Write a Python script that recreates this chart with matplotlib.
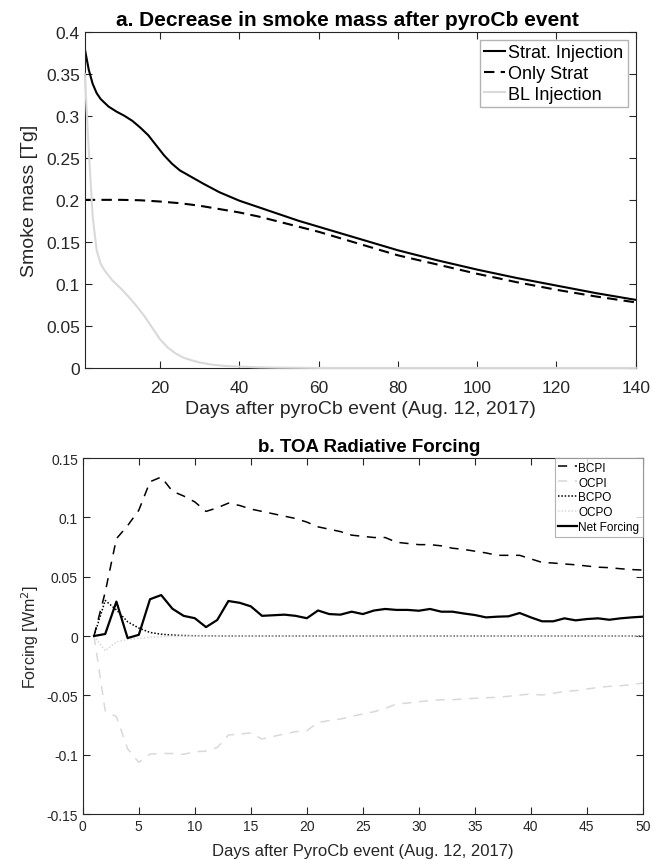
import numpy as np
from matplotlib import pyplot as plt

plt.rcParams['font.family'] = ['Liberation Sans', 'DejaVu Sans']

# panel a: smoke mass [Tg]
strat_days = [1, 2, 3, 4, 5, 7, 9, 11, 13, 15, 17, 19, 21, 23, 25, 28, 31, 35, 40, 45,
              50, 55, 60, 70, 80, 90, 100, 110, 120, 130, 140]
strat_mass = [0.38, 0.355, 0.338, 0.327, 0.320, 0.311, 0.305, 0.300, 0.294, 0.286, 0.277,
              0.265, 0.253, 0.243, 0.235, 0.227, 0.219, 0.209, 0.199, 0.191, 0.183, 0.175,
              0.168, 0.154, 0.140, 0.128, 0.117, 0.107, 0.098, 0.089, 0.081]
only_days = [1, 5, 10, 15, 20, 25, 30, 35, 40, 45, 50, 60, 70, 80, 90, 100, 110, 120, 130, 140]
only_mass = [0.2, 0.2, 0.2, 0.1995, 0.198, 0.196, 0.193, 0.189, 0.185, 0.180, 0.174, 0.162,
             0.148, 0.134, 0.123, 0.112, 0.102, 0.093, 0.085, 0.078]
bl_days = [1, 2, 3, 4, 5, 6, 7, 8, 10, 12, 14, 16, 18, 20, 22, 24, 26, 28, 30, 33, 36, 40,
           45, 50, 60, 140]
bl_mass = [0.35, 0.26, 0.18, 0.14, 0.124, 0.116, 0.110, 0.104, 0.095, 0.085, 0.074, 0.062,
           0.048, 0.034, 0.024, 0.017, 0.012, 0.009, 0.0065, 0.004, 0.0025, 0.0015, 0.0007,
           0.0003, 0.0, 0.0]

# panel b: daily TOA forcing, days 1..50
days_b = list(range(1, 51))
bcpi = [0.0, 0.037, 0.082, 0.093, 0.106, 0.130, 0.134, 0.122, 0.118, 0.113,
        0.105, 0.108, 0.112, 0.110, 0.107, 0.105, 0.103, 0.101, 0.099, 0.096,
        0.092, 0.090, 0.088, 0.085, 0.084, 0.083, 0.083, 0.079, 0.078, 0.077,
        0.077, 0.076, 0.074, 0.073, 0.0715, 0.070, 0.068, 0.068, 0.068, 0.065,
        0.062, 0.0615, 0.0607, 0.060, 0.059, 0.058, 0.0576, 0.0567, 0.056, 0.0556]
ocpi = [0.0, -0.063, -0.068, -0.095, -0.1065, -0.0995, -0.099, -0.099, -0.0997, -0.0975,
        -0.097, -0.094, -0.0834, -0.0826, -0.0817, -0.0868, -0.0846, -0.0826, -0.0806, -0.0798,
        -0.0728, -0.0713, -0.070, -0.0677, -0.0657, -0.0638, -0.061, -0.0573, -0.0565, -0.0553,
        -0.0545, -0.0537, -0.0537, -0.053, -0.0525, -0.052, -0.0517, -0.0508, -0.0497, -0.0489,
        -0.0497, -0.0483, -0.0466, -0.046, -0.0447, -0.0433, -0.0424, -0.0419, -0.041, -0.0396]
bcpo = [0.0, 0.030, 0.022, 0.012, 0.0067, 0.003, 0.0015, 0.0008, 0.0004, 0.0002,
        0.0001, 0.00005, 0.0, 0.0, 0.0, 0.0, 0.0, 0.0, 0.0, 0.0,
        0.0, 0.0, 0.0, 0.0, 0.0, 0.0, 0.0, 0.0, 0.0, 0.0,
        0.0, 0.0, 0.0, 0.0, 0.0, 0.0, 0.0, 0.0, 0.0, 0.0,
        0.0, 0.0, 0.0, 0.0, 0.0, 0.0, 0.0, 0.0, 0.0, 0.0]
ocpo = [0.0, -0.0125, -0.005, -0.003, -0.002, -0.001, -0.0005, -0.0002, -0.0001, 0.0,
        0.0, 0.0, 0.0, 0.0, 0.0, 0.0, 0.0, 0.0, 0.0, 0.0,
        0.0, 0.0, 0.0, 0.0, 0.0, 0.0, 0.0, 0.0, 0.0, 0.0,
        0.0, 0.0, 0.0, 0.0, 0.0, 0.0, 0.0, 0.0, 0.0, 0.0,
        0.0, 0.0, 0.0, 0.0, 0.0, 0.0, 0.0, 0.0, 0.0, 0.0]
net = [0.0, 0.0017, 0.029, -0.0017, 0.001, 0.031, 0.0345, 0.023, 0.017, 0.015,
       0.0075, 0.0135, 0.0295, 0.028, 0.025, 0.017, 0.0175, 0.018, 0.017, 0.015,
       0.0215, 0.0185, 0.018, 0.0205, 0.0185, 0.0215, 0.0228, 0.022, 0.022, 0.0213,
       0.0228, 0.0205, 0.0205, 0.019, 0.0177, 0.0157, 0.0163, 0.0166, 0.0194, 0.0157,
       0.0124, 0.0124, 0.0149, 0.0132, 0.0143, 0.0149, 0.0137, 0.0149, 0.0157, 0.0163]

axcol = '#262626'
light = '#d9d9d9'

fig = plt.figure(figsize=(6.52, 8.62), dpi=100)
ax1 = fig.add_axes([0.130, 0.572, 0.845, 0.390])
ax2 = fig.add_axes([0.127, 0.0545, 0.859, 0.413])

# ---- panel a ----
ax1.plot(strat_days, strat_mass, color='k', lw=1.5, label='Strat. Injection')
ax1.plot(only_days, only_mass, color='k', lw=1.5, ls=(0, (5, 3)), label='Only Strat')
ax1.plot(bl_days, bl_mass, color=light, lw=1.5, label='BL Injection', clip_on=False, zorder=5)
ax1.set_xlim(1, 140)
ax1.set_ylim(0, 0.4)
ax1.set_xticks(np.arange(20, 141, 20))
ax1.set_yticks(np.arange(0, 0.41, 0.05))
ax1.set_yticklabels(['0', '0.05', '0.1', '0.15', '0.2', '0.25', '0.3', '0.35', '0.4'])
ax1.tick_params(direction='in', top=True, right=True, labelsize=12.5, colors=axcol, length=5)
ax1.tick_params(axis='x', pad=9)
ax1.set_xlabel('Days after pyroCb event (Aug. 12, 2017)', fontsize=14, color=axcol, labelpad=3)
ax1.set_ylabel('Smoke mass [Tg]', fontsize=14, color=axcol, labelpad=6)
ax1.set_title('a. Decrease in smoke mass after pyroCb event', fontsize=15, fontweight='bold',
              pad=5, x=0.477)
leg = ax1.legend(loc='upper right', fontsize=13, handlelength=1.15, handletextpad=0.15,
                 borderpad=0.25, labelspacing=0.2, borderaxespad=0.45, fancybox=False)
leg.get_frame().set_edgecolor('#a0a0a0')
leg.get_frame().set_linewidth(1.0)
for sp in ax1.spines.values():
    sp.set_color(axcol)

# ---- panel b ----
ax2.plot(days_b, bcpi, color='k', lw=1.1, ls=(0, (6, 5)), label='BCPI')
ax2.plot(days_b, ocpi, color=light, lw=1.1, ls=(0, (6, 5)), label='OCPI')
ax2.plot(days_b, bcpo, color='k', lw=1.1, ls=(0, (1, 1.2)), label='BCPO')
ax2.plot(days_b, ocpo, color=light, lw=1.1, ls=(0, (1, 1.2)), label='OCPO')
ax2.plot(days_b, net, color='k', lw=1.6, label='Net Forcing')
ax2.set_xlim(0, 50)
ax2.set_ylim(-0.15, 0.15)
ax2.set_xticks(np.arange(0, 51, 5))
ax2.set_yticks(np.arange(-0.15, 0.151, 0.05))
ax2.set_yticklabels(['-0.15', '-0.1', '-0.05', '0', '0.05', '0.1', '0.15'])
ax2.tick_params(direction='in', top=True, right=True, labelsize=10, colors=axcol, length=5)
ax2.set_xlabel('Days after PyroCb event (Aug. 12, 2017)', fontsize=12, color=axcol, labelpad=7)
ax2.set_ylabel('Forcing [Wm$^2$]', fontsize=11.5, color=axcol, labelpad=4)
ax2.set_title('b. TOA Radiative Forcing', fontsize=13.5, fontweight='bold', pad=5, x=0.512)
leg2 = ax2.legend(loc='upper right', fontsize=8.5, handlelength=1.6, handletextpad=0.1,
                  borderpad=0.3, labelspacing=0.25, borderaxespad=0.0, fancybox=False)
leg2.get_frame().set_edgecolor('#a0a0a0')
leg2.get_frame().set_linewidth(0.8)
for sp in ax2.spines.values():
    sp.set_color(axcol)

fig.savefig('out.png', dpi=100)
